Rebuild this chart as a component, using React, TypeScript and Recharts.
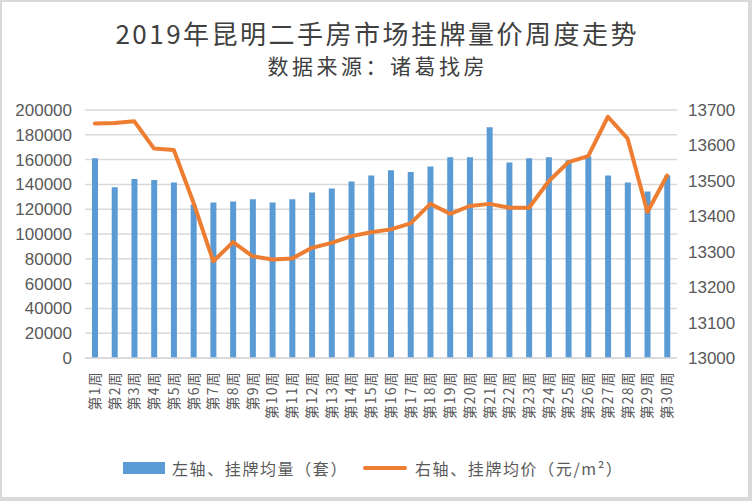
import React from "react";
import { ComposedChart, Bar, Line, XAxis, YAxis, CartesianGrid } from "recharts";

const weeks = Array.from({ length: 30 }, (_, i) => `第${i + 1}周`);

// 左轴：挂牌均量（套）
const listingCount = [
  161000, 137800, 144300, 143500, 141600, 123800, 125400, 126200, 128100, 125400,
  128100, 133500, 136700, 142400, 147200, 151500, 149900, 154500, 161800, 161800,
  186000, 157700, 161000, 161800, 159400, 162600, 147200, 141600, 134300, 147200,
];

// 右轴：挂牌均价（元/m²）
const listingPrice = [
  13662, 13663, 13668, 13591, 13587, 13438, 13273, 13327, 13287, 13278,
  13281, 13311, 13325, 13344, 13355, 13363, 13380, 13435, 13407, 13429,
  13435, 13424, 13424, 13499, 13553, 13570, 13681, 13619, 13412, 13515,
];

const leftTicks = [0, 20000, 40000, 60000, 80000, 100000, 120000, 140000, 160000, 180000, 200000];
const rightTicks = [13000, 13100, 13200, 13300, 13400, 13500, 13600, 13700];

const data = weeks.map((week, i) => ({ week, count: listingCount[i], price: listingPrice[i] }));

const cjk = '"Noto Sans CJK SC", sans-serif';
const numFont = '"Liberation Sans", Arial, sans-serif';
const textColor = "#595959";

function WeekTick({ x, y, payload }: any) {
  return (
    <text
      x={x}
      y={y}
      transform={`rotate(-90, ${x}, ${y})`}
      textAnchor="end"
      dy="0.36em"
      fontSize={14}
      letterSpacing={1.2}
      fill={textColor}
      fontFamily={cjk}
    >
      {payload.value}
    </text>
  );
}

export default function App() {
  return (
    <div style={{ position: "absolute", left: 0, top: 0, width: 752, height: 501, background: "#fff", fontFamily: cjk }}>
      <div style={{ position: "absolute", left: 0, top: 14, width: 752, paddingLeft: 2.5, boxSizing: "border-box", textAlign: "center", fontSize: 26, letterSpacing: 2.5, color: "#404040" }}>
        2019年昆明二手房市场挂牌量价周度走势
      </div>
      <div style={{ position: "absolute", left: 0, top: 50, width: 752, paddingLeft: 3.5, boxSizing: "border-box", textAlign: "center", fontSize: 21, letterSpacing: 3.5, color: "#404040" }}>
        数据来源：诸葛找房
      </div>
      <ComposedChart
        width={752}
        height={501}
        data={data}
        margin={{ top: 110, right: 0, bottom: 0, left: 0 }}
        style={{ position: "absolute", left: 0, top: 0 }}
      >
        <CartesianGrid yAxisId="left" vertical={false} stroke="#d9d9d9" strokeWidth={1.5} />
        <XAxis
          dataKey="week"
          interval={0}
          height={143}
          tickLine={false}
          tickMargin={7}
          axisLine={{ stroke: "#d9d9d9", strokeWidth: 1.5 }}
          tick={<WeekTick />}
        />
        <YAxis
          yAxisId="left"
          width={85}
          domain={[0, 200000]}
          ticks={leftTicks}
          interval={0}
          axisLine={false}
          tickLine={false}
          tickMargin={7}
          tick={{ fontSize: 17, fill: textColor, fontFamily: numFont }}
        />
        <YAxis
          yAxisId="right"
          orientation="right"
          width={75}
          domain={[13000, 13700]}
          ticks={rightTicks}
          interval={0}
          axisLine={false}
          tickLine={false}
          tickMargin={5}
          tick={{ fontSize: 17, fill: textColor, fontFamily: numFont, textAnchor: "start" }}
        />
        <Bar yAxisId="left" dataKey="count" fill="#5B9BD5" barSize={6} isAnimationActive={false} />
        <Line
          yAxisId="right"
          type="linear"
          dataKey="price"
          stroke="#ED7D31"
          strokeWidth={4}
          strokeLinejoin="round"
          strokeLinecap="round"
          dot={false}
          activeDot={false}
          isAnimationActive={false}
        />
      </ComposedChart>
      <div style={{ position: "absolute", left: 123, top: 462, width: 42, height: 12, background: "#5B9BD5" }} />
      <div style={{ position: "absolute", left: 172, top: 456, fontSize: 16, letterSpacing: 1.6, color: textColor, whiteSpace: "nowrap" }}>
        左轴、挂牌均量（套）
      </div>
      <div style={{ position: "absolute", left: 363, top: 466, width: 44, height: 4, background: "#ED7D31", borderRadius: 2 }} />
      <div style={{ position: "absolute", left: 415, top: 456, fontSize: 16, letterSpacing: 1.6, color: textColor, whiteSpace: "nowrap" }}>
        右轴、挂牌均价（元/m²）
      </div>
      <div
        style={{
          position: "absolute",
          left: 0,
          top: 0,
          width: 752,
          height: 501,
          boxSizing: "border-box",
          borderStyle: "solid",
          borderColor: "#d9d9d9",
          borderWidth: "2px 4px 4px 2px",
          pointerEvents: "none",
        }}
      />
    </div>
  );
}
